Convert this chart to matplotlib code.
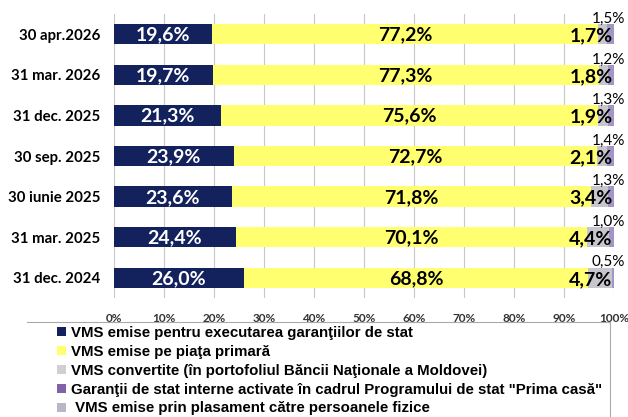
import matplotlib.pyplot as plt
from matplotlib.patches import Patch
from matplotlib.lines import Line2D

# -------------------------------------------------
# Data
# -------------------------------------------------
dates = ["30 apr.2026", "31 mar. 2026", "31 dec. 2025", "30 sep. 2025",
         "30 iunie 2025", "31 mar. 2025", "31 dec. 2024"]
garantii_exec = [19.6, 19.7, 21.3, 23.9, 23.6, 24.4, 26.0]
piata_primara = [77.2, 77.3, 75.6, 72.7, 71.8, 70.1, 68.8]
convertite = [1.7, 1.8, 1.9, 2.1, 3.4, 4.4, 4.7]
prima_casa = [1.5, 1.2, 1.3, 1.4, 1.3, 1.0, 0.5]
persoane_fizice = [0.0, 0.0, 0.0, 0.0, 0.0, 0.0, 0.0]

legend_labels = [
    "VMS emise pentru executarea garanţiilor de stat",
    "VMS emise pe piaţa primară",
    "VMS convertite (în portofoliul Băncii Naţionale a Moldovei)",
    "Garanţii de stat interne activate în cadrul Programului de stat \"Prima casă\"",
    " VMS emise prin plasament către persoanele fizice",
]

colors = ["#13225c", "#ffff70", "#c6c6cc", "#a196c4", "#b9b6c8"]
legend_colors = ["#13225c", "#ffff70", "#d0d0d4", "#8062a8", "#b9b6c8"]


def pct(v):
    return f"{v:.1f}%".replace(".", ",")


fig = plt.figure(figsize=(6.28, 4.17), dpi=100)
ax = fig.add_axes([114 / 628, 1 - 298 / 417, 500 / 628, 284 / 417])

y = list(range(len(dates)))
h = 0.5
series = [garantii_exec, piata_primara, convertite, prima_casa, persoane_fizice]
left = [0.0] * len(dates)
for vals, col in zip(series, colors):
    ax.barh(y, vals, left=left, height=h, color=col, zorder=2)
    left = [a + b for a, b in zip(left, vals)]

font = "Lato"
for i in y:
    ax.text(garantii_exec[i] / 2, i + 0.02, pct(garantii_exec[i]),
            ha="center", va="center", color="white", fontsize=14,
            fontweight="bold", family=font, zorder=3)
    mid = garantii_exec[i] + piata_primara[i] / 2
    ax.text(mid, i + 0.02, pct(piata_primara[i]),
            ha="center", va="center", color="black", fontsize=14,
            fontweight="bold", family=font, zorder=3)
    ax.text(99.7, i + 0.04, pct(convertite[i]),
            ha="right", va="center", color="black", fontsize=14,
            fontweight="bold", family=font, zorder=3)
    ax.text(102.2, i - 0.38, pct(prima_casa[i]),
            ha="right", va="center", color="black", fontsize=11,
            family=font, zorder=3, clip_on=False)

ax.set_xlim(0, 100)
ax.set_ylim(len(dates) - 0.5, -0.5)
ax.set_xticks(range(0, 101, 10))
ax.set_xticklabels([f"{v}%" for v in range(0, 101, 10)], fontsize=8.5,
                   fontweight="bold", family=font, color="#333333")
ax.set_yticks(y)
ax.set_yticklabels(dates, fontsize=10.8, fontweight="bold", family=font)
ax.tick_params(axis="y", length=0, pad=10)
ax.tick_params(axis="x", length=0, pad=11)
ax.grid(axis="x", color="#c8c8c8", linewidth=0.8, zorder=0)
for s in ax.spines.values():
    s.set_visible(False)

# legend (box is cut by the bottom edge, as in the original)
handles = [Patch(facecolor=c, edgecolor="none") for c in legend_colors]
leg = fig.legend(handles, legend_labels, loc="upper left",
                 bbox_to_anchor=(46 / 628, 1 - 315 / 417), ncol=1,
                 prop={"family": "Liberation Sans", "weight": "bold", "size": 10.8},
                 handlelength=0.55, handleheight=0.55, handletextpad=0.35,
                 labelspacing=0.32, borderpad=0.25, frameon=False)

fy = 1 - 322 / 417
fig.add_artist(Line2D([27 / 628, 610 / 628], [fy, fy], color="#aaaaaa",
                      linewidth=0.8, transform=fig.transFigure))
fig.add_artist(Line2D([610 / 628, 610 / 628], [fy, 0], color="#aaaaaa",
                      linewidth=0.8, transform=fig.transFigure))

fig.savefig("out.png", dpi=100)
